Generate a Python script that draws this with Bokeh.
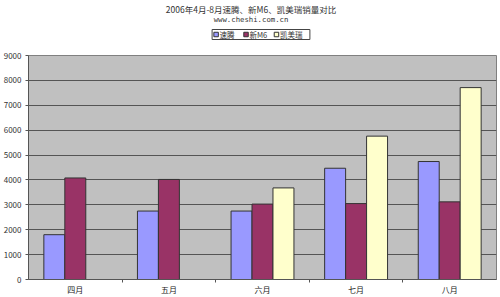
from bokeh.plotting import figure
from bokeh.layouts import column
from bokeh.models import ColumnDataSource, FixedTicker, Range1d
from bokeh.core.properties import value
from bokeh.embed import file_html
from bokeh.resources import INLINE

months = ["四月", "五月", "六月", "七月", "八月"]
series_names = ["速腾", "新M6", "凯美瑞"]
sagitar = [1800, 2750, 2750, 4470, 4740]
m6 = [4080, 4020, 3030, 3050, 3120]
camry = [float("nan"), float("nan"), 3680, 5760, 7710]
y_ticks = [0, 1000, 2000, 3000, 4000, 5000, 6000, 7000, 8000, 9000]
title_text = "2006年4月-8月速腾、新M6、凯美瑞销量对比"
subtitle_text = "www.cheshi.com.cn"

colors = ["#9999FF", "#993366", "#FFFFCC"]
FONT = "Noto Sans CJK SC"
W = 500
TOP_H = 45
MAIN_H = 297 - TOP_H
LEFT, RIGHT = 27, 4

# ---- header: title, subtitle, legend (frame aligned with main frame) ----
hdr = figure(width=W, height=TOP_H, output_backend="svg", toolbar_location=None,
             x_range=Range1d(LEFT, W - RIGHT), y_range=Range1d(TOP_H, 0),
             x_axis_type=None, y_axis_type=None, min_border=0,
             min_border_left=LEFT, min_border_right=RIGHT)
hdr.title.visible = False
hdr.outline_line_color = None
hdr.grid.visible = False
hdr.background_fill_color = "white"
hdr.border_fill_color = "white"

hdr.text(x=[250], y=[8], text=[title_text], text_align="center", text_baseline="middle",
         text_font=value(FONT), text_font_size="8.5px", text_color="#333333")
hdr.text(x=[250], y=[19], text=[subtitle_text], text_align="center", text_baseline="middle",
         text_font=value("DejaVu Sans Mono"), text_font_size="7.3px", text_color="#333333")

hdr.quad(left=[211], right=[309], top=[29], bottom=[39], fill_color="white",
         line_color="#444444", line_width=1)
sq_x = [215, 245, 275.5]
txt_x = [218.5, 248.5, 279]
hdr.rect(x=sq_x, y=[34] * 3, width=4.5, height=4.5, fill_color=colors,
         line_color="#333333", line_width=1)
hdr.text(x=txt_x, y=[34.3] * 3, text=series_names, text_align="left", text_baseline="middle",
         text_font=value(FONT), text_font_size="7.5px", text_color="#333333")

# ---- main chart ----
xs = list(range(len(months)))
p = figure(width=W, height=MAIN_H, output_backend="svg", toolbar_location=None,
           x_range=Range1d(-0.5, len(months) - 0.5), y_range=Range1d(0, 9000),
           min_border_left=LEFT, min_border_right=RIGHT, min_border_bottom=18,
           min_border_top=55 - TOP_H)
p.title.visible = False
p.background_fill_color = "#C0C0C0"
p.border_fill_color = "white"
p.outline_line_color = "#808080"

bw = 0.224
for i, (vals, c) in enumerate(zip([sagitar, m6, camry], colors)):
    src = ColumnDataSource(dict(x=[x + (i - 1) * bw for x in xs], top=vals))
    p.vbar(x="x", top="top", bottom=0, width=bw, source=src,
           fill_color=c, line_color="#333333", line_width=1)

p.xgrid.visible = False
p.ygrid.ticker = FixedTicker(ticks=y_ticks)
p.ygrid.grid_line_color = "#555555"
p.ygrid.grid_line_width = 1

p.yaxis.ticker = FixedTicker(ticks=y_ticks)
p.yaxis.major_label_text_font = FONT
p.yaxis.major_label_text_font_size = "8px"
p.yaxis.major_label_text_color = "#333333"
p.yaxis.axis_line_color = "#555555"
p.yaxis.major_tick_line_color = "#555555"
p.yaxis.major_tick_out = 3
p.yaxis.major_tick_in = 0
p.yaxis.minor_tick_line_color = None
p.yaxis.major_label_standoff = 4

p.xaxis.ticker = FixedTicker(ticks=xs, minor_ticks=[x + 0.5 for x in xs[:-1]])
p.xaxis.major_label_overrides = {x: m for x, m in zip(xs, months)}
p.xaxis.major_label_text_font = FONT
p.xaxis.major_label_text_font_size = "8px"
p.xaxis.major_label_text_color = "#222222"
p.xaxis.major_tick_line_color = None
p.xaxis.minor_tick_line_color = "#555555"
p.xaxis.minor_tick_out = 3
p.xaxis.minor_tick_in = 0
p.xaxis.axis_line_color = "#555555"
p.xaxis.major_label_standoff = -2

layout = column(hdr, p, spacing=0)
open("out.html", "w").write(file_html(layout, INLINE))
